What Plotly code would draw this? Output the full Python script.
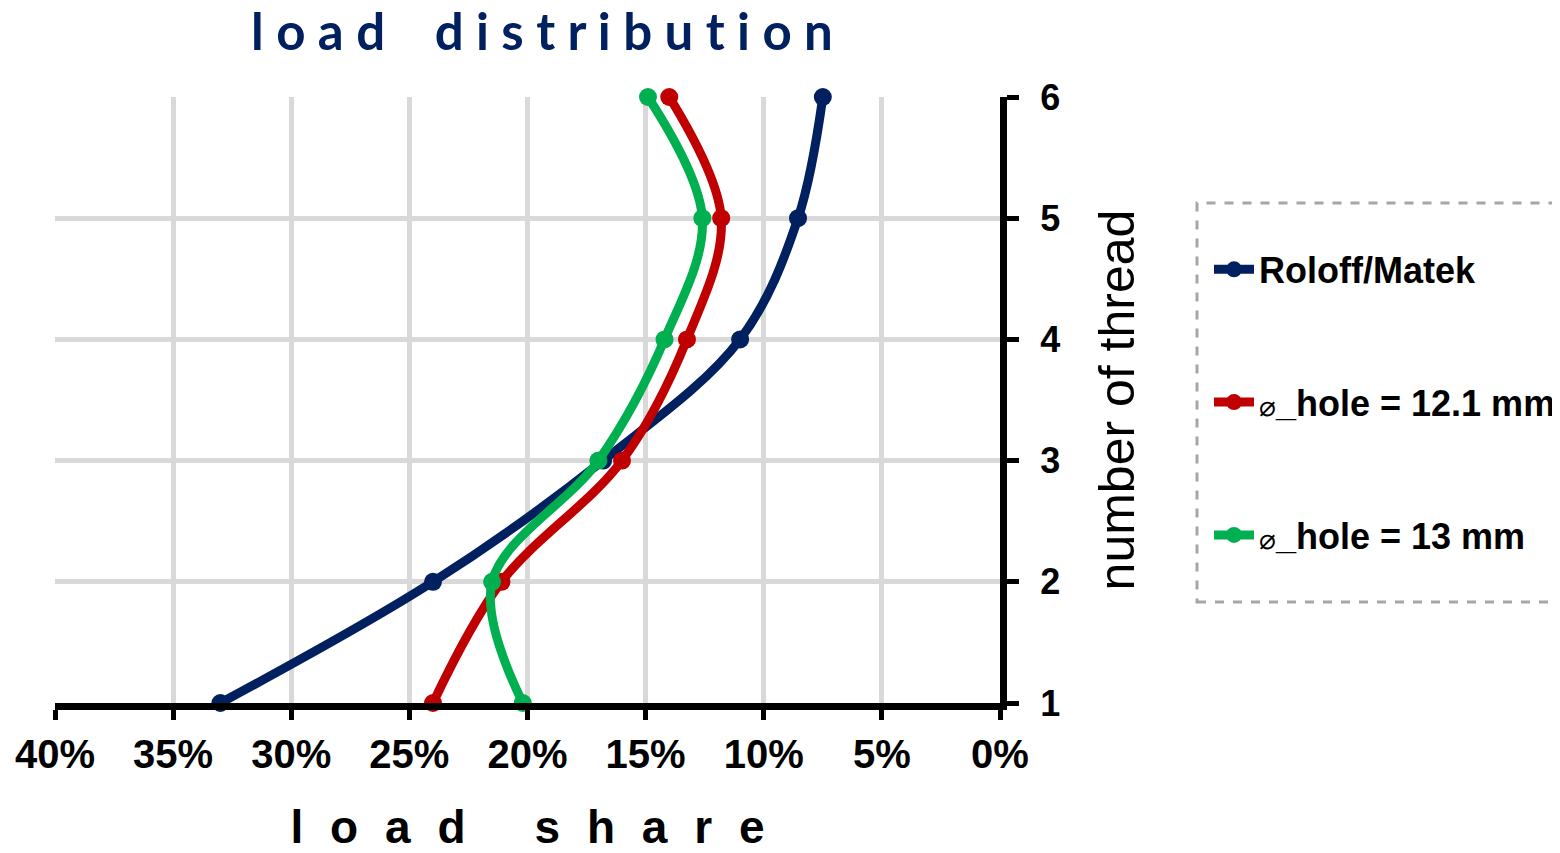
import plotly.graph_objects as go

threads = [1, 2, 3, 4, 5, 6]
roloff = [0.330, 0.240, 0.168, 0.110, 0.0855, 0.075]
hole_121 = [0.240, 0.211, 0.160, 0.1325, 0.118, 0.140]
hole_13 = [0.202, 0.215, 0.170, 0.142, 0.126, 0.149]

names = ["<b>Roloff/Matek</b>",
         "<span style='font-weight:normal;font-size:28px'>⌀</span><b>_hole = 12.1 mm</b>",
         "<span style='font-weight:normal;font-size:28px'>⌀</span><b>_hole = 13 mm</b>"]
colors = ["#002060", "#C00000", "#00B050"]
series = [roloff, hole_121, hole_13]

fig = go.Figure()
for i, (vals, nm, c) in enumerate(zip(series, names, colors)):
    fig.add_trace(go.Scatter(
        x=vals, y=threads, name=nm, mode="lines+markers",
        line=dict(color=c, width=9, shape="spline", smoothing=1.0),
        marker=dict(color=c, size=18),
        cliponaxis=False, legendgroup=str(i)))

def spaced(word, sep):
    return sep.join(list(word))

title_txt = "\u00a0\u00a0\u00a0\u00a0".join(spaced(w, " ") for w in ["load", "distribution"])
xt_txt = "\u2002\u2002\u2002".join(spaced(w, "\u2002\u200a") for w in ["load", "share"])

L, T, PW, PH = 47, 89, 945, 606

fig.update_layout(
    width=1560, height=853,
    margin=dict(l=L, r=1560 - L - PW, t=T, b=853 - T - PH, autoexpand=False),
    paper_bgcolor="white", plot_bgcolor="white",
    showlegend=True,
    title=dict(text="<b>" + title_txt + "</b>", x=(542 - 55) / PW, xref="paper", xanchor="center",
               y=1 - 24 / 853, yanchor="middle",
               font=dict(family="Lato, Open Sans, sans-serif", size=51, color="#002060")),
    legend=dict(x=(1209 - 55) / PW, xanchor="left", y=0.765, yanchor="top",
                font=dict(family="Liberation Sans, Arial, sans-serif", size=36, color="black"),
                tracegroupgap=83, bgcolor="rgba(0,0,0,0)", borderwidth=0,
                itemwidth=40),
    xaxis=dict(range=[0.40, 0.0], tickformat=".0%", dtick=0.05, automargin=False,
               showgrid=True, gridcolor="#d9d9d9", gridwidth=4.5,
               showline=True, linecolor="black", linewidth=7,
               ticks="outside", ticklen=10, tickwidth=5, tickcolor="black",
               zeroline=False, ticklabelstandoff=0,
               tickfont=dict(family="Liberation Sans Narrow, Liberation Sans, Arial, sans-serif",
                             size=40, color="black", weight="bold"),
               title=dict(text="<b>" + xt_txt + "</b>", standoff=38,
                          font=dict(family="Liberation Sans Narrow, Liberation Sans, sans-serif",
                                    size=46, color="black"))),
    yaxis=dict(range=[1, 6], dtick=1, side="right", automargin=False,
               showgrid=True, gridcolor="#d9d9d9", gridwidth=4.5,
               showline=True, linecolor="black", linewidth=7,
               ticks="outside", ticklen=12, tickwidth=5, tickcolor="black",
               zeroline=False, ticklabelstandoff=14,
               tickfont=dict(family="Liberation Sans, Arial, sans-serif", size=36,
                             color="black", weight="bold"),
               title=dict(text="number of thread", standoff=42,
                          font=dict(family="Liberation Sans, Arial, sans-serif", size=50,
                                    color="black"))),
)

fig.add_shape(type="rect", xref="paper", yref="paper",
              x0=(1197 - 55) / PW, x1=1.75, y0=(703 - 602) / PH, y1=(703 - 203) / PH,
              line=dict(color="#a6a6a6", width=3, dash="dash"), fillcolor="rgba(0,0,0,0)")

fig.write_html("out.html")
